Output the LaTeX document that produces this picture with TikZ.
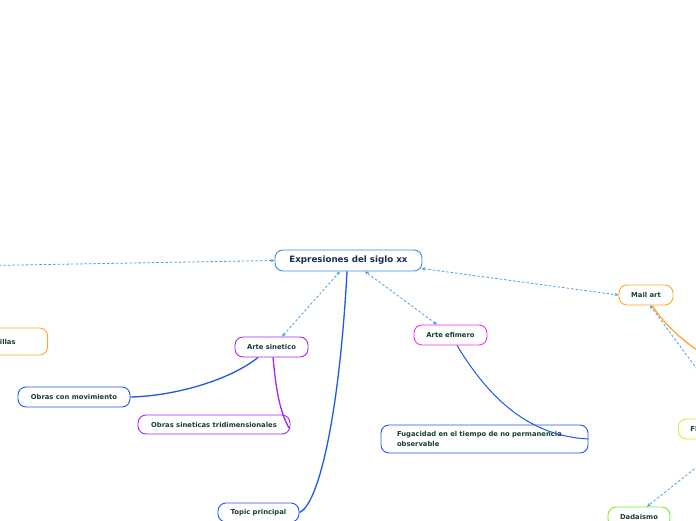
\documentclass[tikz,border=0pt]{standalone}
\usepackage{fontspec}
\setmainfont{DejaVu Sans}
\usetikzlibrary{arrows.meta}
\definecolor{cblue}{HTML}{3A8FD4}
\definecolor{dblue}{HTML}{4A9BEA}
\definecolor{lblue}{HTML}{1F57E8}
\definecolor{purp}{HTML}{A526F2}
\definecolor{mag}{HTML}{FF2EDB}
\definecolor{orng}{HTML}{FFA62B}
\definecolor{ygrn}{HTML}{D2F02A}
\definecolor{grn}{HTML}{6FEE2E}
\definecolor{tgreen}{HTML}{173F32}
\definecolor{tnavy}{HTML}{1B2A50}
\tikzset{
  topic/.style={draw, rounded corners=8pt, line width=0.9pt, fill=white,
    font=\fontsize{6.8}{9.5}\selectfont\bfseries, text=tgreen, inner sep=0pt,
    minimum height=20pt},
  central/.style={topic, font=\fontsize{8.7}{10}\selectfont\bfseries, text=tnavy, draw=cblue},
  rel/.style={dblue, line width=0.8pt, dash pattern=on 2.5pt off 2pt,
    {Stealth[length=4pt,width=3.5pt]}-{Stealth[length=4pt,width=3.5pt]}},
  relone/.style={dblue, line width=0.8pt, dash pattern=on 2.5pt off 2pt,
    -{Stealth[length=4pt,width=3.5pt]}},
  branch/.style={line width=1.3pt},
}
\begin{document}
\begin{tikzpicture}[x=1pt,y=-1pt]
\useasboundingbox (0,0) rectangle (696,520);
\coordinate (offl) at (-10,265.5);
\coordinate (offr) at (700,352);
% nodes
\node[central, minimum width=147pt, minimum height=21pt] (c) at (348.5,260.5) {Expresiones del siglo xx};
\node[topic, draw=purp, minimum width=73pt] (as) at (271.5,347) {Arte sinetico};
\node[topic, draw=lblue, minimum width=112pt] (ocm) at (74,397) {Obras con movimiento};
\node[topic, draw=purp, minimum width=152pt, minimum height=19pt] (ost) at (214,424.5) {Obras sineticas tridimensionales};
\node[topic, draw=lblue, minimum width=81pt, minimum height=19pt] (tp) at (258.5,512.5) {Topic principal};
\node[topic, draw=mag, minimum width=73pt] (ae) at (450.5,335) {Arte efimero};
\node[topic, draw=lblue, minimum height=28pt, inner xsep=16pt, text width=175pt, align=left] (fug) at (484.5,439)
  {Fugacidad en el tiempo de no permanencia\\observable};
\node[topic, draw=orng, minimum width=54pt] (ma) at (646,295) {Mail art};
\node[topic, draw=orng, minimum height=27pt, text width=100pt, align=right, anchor=east] (il) at (48,341.5) {illas\hspace*{32pt}};
\node[topic, draw=ygrn, inner xsep=12pt, text width=48pt, align=left, anchor=west] (fl) at (678,429) {Fl};
\node[topic, draw=grn, minimum width=62pt] (dd) at (639,517) {Dadaismo};
% dashed relations
\draw[relone] (offl) -- (c.west);
\path (as.north) ++(10.5,0) coordinate (asn) (c.south) ++(-8.5,0) coordinate (cs1);
\draw[rel] (asn) -- (cs1);
\path (ae.north) ++(-13.5,0) coordinate (aen) (c.south) ++(16.5,0) coordinate (cs2);
\draw[rel] (aen) -- (cs2);
\path (c.south east) ++(-1,-3) coordinate (cse);
\draw[rel] (cse) -- (ma.west);
\path (ma.south) ++(4,0) coordinate (mas) (fl.north) ++(19,0) coordinate (fln);
\draw[rel] (fln) -- (mas);
\path (fl.south) ++(17,0) coordinate (fls) (dd.north) ++(8,0) coordinate (ddn);
\draw[rel] (fls) -- (ddn);
% solid branches
\path (c.south) ++(-1.5,0) coordinate (cs0);
\draw[branch, lblue] (cs0) .. controls (339,420) and (318,505) .. (tp.east);
\path (as.south) ++(-13.5,0) coordinate (ass1);
\draw[branch, lblue] (ass1) .. controls (230,380) and (175,396) .. (ocm.east);
\path (as.south) ++(1.5,0) coordinate (ass2);
\coordinate (ostend) at (289,428);
\draw[branch, purp] (ass2) .. controls (276,388) and (279,410) .. (ostend);
\path (ae.south) ++(6.5,0) coordinate (aes);
\draw[branch, lblue, line width=1pt] (aes) .. controls (490,400) and (530,436) .. (fug.east);
\path (ma.south) ++(6,0) coordinate (mas2);
\draw[branch, orng] (mas2) .. controls (665,325) and (682,340) .. (offr);
\end{tikzpicture}
\end{document}
